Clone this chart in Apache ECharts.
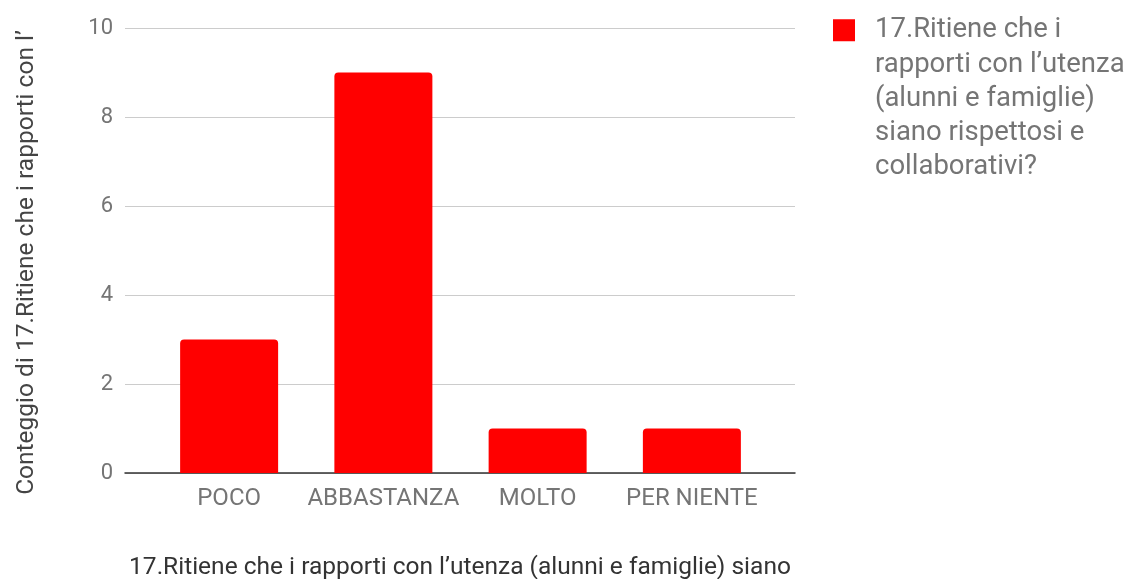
<!DOCTYPE html>
<html><head><meta charset="utf-8">
<script src="https://cdn.jsdelivr.net/npm/echarts@6/dist/echarts.min.js"></script>
<style>html,body{margin:0;padding:0;background:#fff}#c{width:1131px;height:579px}</style>
</head><body><div id="c"></div>
<script>
const categories = ['POCO', 'ABBASTANZA', 'MOLTO', 'PER NIENTE'];
const counts = [3, 9, 1, 1];
const yMin = 0, yMax = 10, yStep = 2;
const seriesName = '17.Ritiene che i rapporti con l’utenza (alunni e famiglie) siano rispettosi e collaborativi?';
const legendLines = ['17.Ritiene che i', 'rapporti con l’utenza', '(alunni e famiglie)', 'siano rispettosi e', 'collaborativi?'];
const xTitle = '17.Ritiene che i rapporti con l’utenza (alunni e famiglie) siano';
const yTitle = 'Conteggio di 17.Ritiene che i rapporti con l’';

const FONT = 'Roboto';
const chart = echarts.init(document.getElementById('c'), null, {renderer: 'canvas'});
const lineH = 34.3;
chart.setOption({
  animation: false,
  textStyle: {fontFamily: FONT},
  grid: [
    {left: 125, right: 336, top: 28, bottom: 106, containLabel: false, outerBoundsMode: 'none'},
    {left: 152, right: 362, top: 28, bottom: 106, containLabel: false, outerBoundsMode: 'none'}
  ],
  xAxis: [
    {gridIndex: 0, type: 'value', min: 0, max: 1,
     axisLine: {show: true, lineStyle: {color: '#333', width: 1.5}},
     axisTick: {show: false}, axisLabel: {show: false}, splitLine: {show: false},
     name: xTitle, nameLocation: 'middle', nameGap: 82,
     nameTextStyle: {fontSize: 24.5, color: '#333', fontFamily: FONT}},
    {gridIndex: 1, type: 'category', data: categories,
     axisLine: {show: false}, axisTick: {show: false},
     axisLabel: {fontSize: 24, color: '#757575', margin: 14, interval: 0, fontFamily: FONT}}
  ],
  yAxis: [
    {gridIndex: 0, type: 'value', min: yMin, max: yMax, interval: yStep,
     axisLine: {show: false}, axisTick: {show: false},
     axisLabel: {fontSize: 22, color: '#757575', margin: 12, fontFamily: FONT},
     splitLine: {lineStyle: {color: '#cccccc', width: 1}},
     name: yTitle, nameLocation: 'middle', nameRotate: 90, nameGap: 86,
     nameTextStyle: {fontSize: 24.5, color: '#444', fontFamily: FONT, padding: [0, 24, 0, 0]}},
    {gridIndex: 1, type: 'value', min: yMin, max: yMax, interval: yStep, show: false}
  ],
  legend: {
    left: 833, top: -124, orient: 'vertical', padding: 0,
    data: [seriesName],
    icon: 'path://M0,0h22v22h-22z M37,0L37,22',
    itemWidth: 37, itemHeight: 22, itemGap: 0,
    formatter: () => '\n\n\n\n' + legendLines.join('\n'),
    textStyle: {fontSize: 27.5, color: '#757575', lineHeight: lineH, fontFamily: FONT}
  },
  series: [{
    name: seriesName, type: 'bar', xAxisIndex: 1, yAxisIndex: 1,
    data: counts, barWidth: 98,
    itemStyle: {color: '#ff0000', borderRadius: [4, 4, 0, 0]}
  }]
});
</script></body></html>
